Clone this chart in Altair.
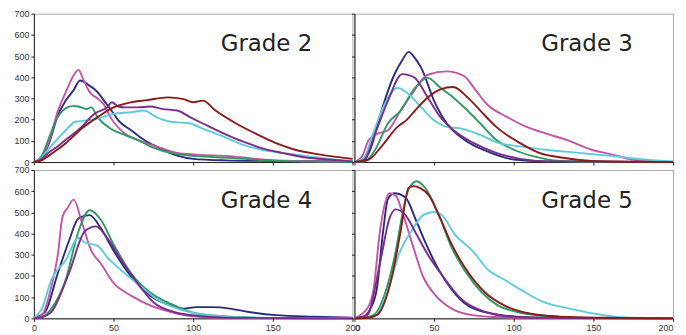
import altair as alt
import pandas as pd

SERIES = ["cyan", "green", "magenta", "navy", "purple", "darkred"]
COLORS = ["#5ecbdb", "#2e9a62", "#c553a9", "#2b2b7f", "#7b2d89", "#8b1a1a"]
X_TICKS = [0, 50, 100, 150, 200]
Y_TICKS = [0, 100, 200, 300, 400, 500, 600, 700]

# Grade 2
G2_NAVY = [(0,0),(5,15),(10,100),(15,220),(20,290),(25,340),(29,385),(34,365),(40,330),(44,290),(49,240),(53,197),(61,150),(69,105),(81,58),(90,30),(100,15),(120,8),(150,5),(200,3)]
G2_MAGENTA = [(0,0),(5,20),(10,110),(15,240),(20,330),(25,410),(28,435),(31,390),(35,330),(40,300),(44,270),(48,212),(57,135),(65,105),(77,74),(90,43),(102,35),(123,28),(143,12),(164,5),(200,2)]
G2_GREEN = [(0,0),(5,30),(9,105),(15,212),(21,258),(25,265),(28,262),(33,250),(36,258),(40,212),(48,158),(57,128),(65,105),(73,74),(86,43),(102,28),(123,20),(143,9),(164,3),(200,1)]
G2_CYAN = [(0,0),(5,20),(9,58),(15,110),(20,150),(26,190),(34,197),(40,205),(50,228),(61,235),(69,243),(77,212),(86,190),(98,182),(106,158),(119,120),(131,82),(143,58),(156,43),(172,28),(185,15),(200,5)]
G2_PURPLE = [(0,0),(5,15),(9,43),(15,75),(20,105),(30,166),(38,228),(46,258),(49,282),(53,262),(57,258),(65,258),(73,262),(81,250),(90,243),(98,212),(106,182),(119,135),(131,97),(143,66),(156,43),(172,20),(185,12),(200,3)]
G2_DARKRED = [(0,0),(5,8),(9,28),(15,60),(20,89),(30,158),(40,212),(50,258),(61,282),(71,292),(84,305),(94,297),(100,282),(106,290),(114,243),(127,182),(139,135),(152,89),(164,58),(180,35),(200,15)]

# Grade 3
G3_NAVY = [(0,0),(5,0),(10,60),(17,243),(25,412),(30,480),(34,520),(38,490),(42,443),(50,289),(58,182),(69,105),(83,51),(100,12),(120,3),(200,0)]
G3_PURPLE = [(0,0),(6,10),(13,135),(21,289),(30,415),(34,410),(38,397),(46,305),(54,212),(62,151),(75,89),(89,43),(104,15),(120,3),(200,0)]
G3_CYAN = [(0,0),(6,20),(11,120),(19,274),(27,350),(34,320),(42,258),(50,197),(58,166),(67,158),(79,128),(91,89),(104,74),(120,58),(141,43),(162,28),(182,12),(200,3)]
G3_GREEN = [(0,0),(7,5),(13,58),(21,182),(29,243),(38,350),(46,397),(54,350),(62,305),(71,243),(79,182),(89,105),(100,58),(112,28),(129,5),(150,0),(200,0)]
G3_MAGENTA = [(0,0),(5,30),(9,105),(15,135),(21,150),(29,243),(36,320),(46,412),(58,428),(69,405),(75,350),(83,274),(96,212),(108,166),(120,135),(133,105),(149,58),(162,35),(174,12),(187,3),(200,0)]
G3_DARKRED = [(0,0),(9,12),(17,74),(27,166),(33,200),(38,243),(46,305),(54,343),(62,354),(71,305),(79,243),(89,166),(104,89),(116,43),(131,20),(149,5),(200,0)]

# Grade 4
G4_MAGENTA = [(0,0),(5,15),(11,150),(15,300),(18,480),(21,520),(25,560),(30,456),(36,320),(42,259),(50,167),(61,107),(73,61),(86,30),(102,8),(120,2),(200,0)]
G4_NAVY = [(0,0),(7,30),(15,213),(22,365),(28,472),(35,487),(42,426),(50,320),(61,198),(73,107),(86,61),(94,46),(102,53),(112,53),(123,46),(135,30),(152,15),(176,8),(200,3)]
G4_GREEN = [(0,0),(5,5),(11,46),(20,183),(28,411),(35,510),(42,465),(50,350),(61,213),(73,122),(86,68),(102,23),(123,8),(150,2),(200,0)]
G4_PURPLE = [(0,0),(5,5),(11,30),(22,213),(32,411),(39,434),(46,380),(55,274),(65,167),(75,76),(88,30),(102,12),(120,3),(200,0)]
G4_CYAN = [(0,0),(5,46),(11,183),(20,274),(28,380),(32,358),(40,342),(46,289),(57,213),(67,152),(77,91),(90,46),(102,23),(123,8),(150,2),(200,0)]

# Grade 5
G5_MAGENTA = [(0,0),(8,46),(12,137),(16,411),(20,563),(22,590),(26,578),(30,502),(37,335),(43,198),(51,107),(61,46),(74,15),(88,6),(110,2),(200,0)]
G5_NAVY = [(0,0),(5,5),(10,46),(14,137),(18,411),(21,563),(25,590),(32,570),(39,456),(45,350),(53,228),(61,137),(71,61),(86,23),(102,8),(130,2),(200,0)]
G5_PURPLE = [(0,0),(8,15),(16,259),(22,472),(26,514),(32,487),(39,396),(47,289),(57,183),(67,91),(82,30),(98,8),(120,2),(200,0)]
G5_GREEN = [(0,0),(6,3),(12,15),(20,137),(26,320),(30,487),(34,609),(39,647),(45,609),(53,487),(61,335),(69,228),(80,122),(90,61),(102,30),(119,12),(139,3),(200,0)]
G5_DARKRED = [(0,0),(8,3),(14,15),(24,213),(29,411),(34,616),(37,624),(41,616),(47,578),(53,487),(61,350),(69,243),(82,122),(94,61),(110,23),(129,8),(152,3),(200,0)]
G5_CYAN = [(0,0),(12,8),(20,107),(28,304),(37,426),(43,487),(50,502),(55,487),(63,396),(74,320),(84,228),(94,183),(104,137),(119,76),(135,46),(150,23),(164,8),(180,2),(200,0)]

PANELS = {
    "Grade 2": {"navy": G2_NAVY, "magenta": G2_MAGENTA, "green": G2_GREEN, "cyan": G2_CYAN, "purple": G2_PURPLE, "darkred": G2_DARKRED},
    "Grade 3": {"navy": G3_NAVY, "magenta": G3_MAGENTA, "green": G3_GREEN, "cyan": G3_CYAN, "purple": G3_PURPLE, "darkred": G3_DARKRED},
    "Grade 4": {"navy": G4_NAVY, "magenta": G4_MAGENTA, "green": G4_GREEN, "cyan": G4_CYAN, "purple": G4_PURPLE},
    "Grade 5": {"navy": G5_NAVY, "magenta": G5_MAGENTA, "green": G5_GREEN, "cyan": G5_CYAN, "purple": G5_PURPLE, "darkred": G5_DARKRED},
}
LABEL_POS = (146, 555)

W, H = 320, 149


def panel(name, show_x_labels, show_y_labels, flush=False):
    rows = []
    for s, pts in PANELS[name].items():
        for i, (x, y) in enumerate(pts):
            rows.append({"series": s, "x": x, "y": y, "i": i})
    df = pd.DataFrame(rows)
    common = dict(grid=False, title=None, tickSize=3, labelPadding=2, labelFontSize=9,
                  labelFont="Liberation Sans", labelColor="#333", domainColor="#222",
                  tickColor="#222", labelOverlap=False)
    xax = alt.Axis(values=X_TICKS, labels=show_x_labels, labelFlush=flush, **common)
    yax = alt.Axis(values=Y_TICKS, labels=show_y_labels, **common)
    xs = alt.Scale(domain=[0, 200], nice=False)
    ys = alt.Scale(domain=[0, 700], nice=False)
    lines = alt.Chart(df).mark_line(strokeWidth=1.9, interpolate="monotone").encode(
        x=alt.X("x:Q", scale=xs, axis=xax),
        y=alt.Y("y:Q", scale=ys, axis=yax),
        color=alt.Color("series:N", scale=alt.Scale(domain=SERIES, range=COLORS), legend=None),
        detail="series:N",
        order="i:Q",
    )
    lab = pd.DataFrame({"x": [LABEL_POS[0]], "y": [LABEL_POS[1]], "t": [name]})
    text = alt.Chart(lab).mark_text(fontSize=23, font="DejaVu Sans", color="#222",
                                    align="center", baseline="middle").encode(
        x=alt.X("x:Q", scale=xs, axis=xax),
        y=alt.Y("y:Q", scale=ys, axis=yax),
        text="t:N")
    return alt.layer(lines, text).properties(width=W, height=H)


top = alt.hconcat(panel("Grade 2", False, True), panel("Grade 3", False, False),
                  spacing=2, bounds="flush")
bottom = alt.hconcat(panel("Grade 4", True, True), panel("Grade 5", True, False, flush=True),
                     spacing=2, bounds="flush")
chart = alt.vconcat(top, bottom, spacing=-3).properties(
    padding={"left": 5, "top": 0, "right": 0, "bottom": 0}
).configure_view(stroke="#aaa")

chart.save("out.html", embed_options={"renderer": "svg", "actions": False})
